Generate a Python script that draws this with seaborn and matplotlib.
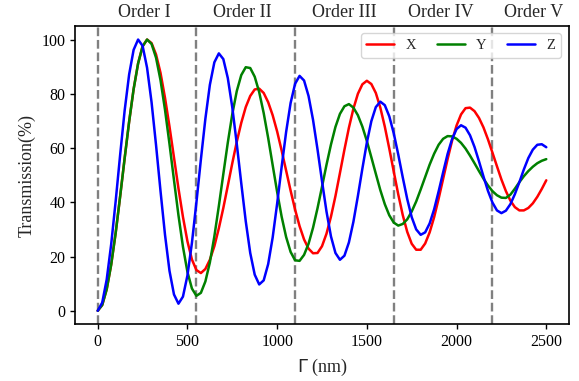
import numpy as np
import pandas as pd
import matplotlib
matplotlib.use("Agg")
import matplotlib.pyplot as plt
import seaborn as sns

# ---- data ----
gamma = np.arange(0, 2501, 25)

x_vals = [0, 2.1, 7.9, 17.0, 28.7, 42.2, 56.2, 69.7, 81.7, 91.2, 97.5, 100.0,
          98.7, 94.5, 87.7, 78.5, 67.9, 56.5, 45.1, 34.6, 25.6, 18.9, 15.0,
          13.9, 15.4, 18.8, 23.8, 30.4, 37.9, 46.1, 54.4, 62.3, 69.3, 75.1, 79.2, 81.6,
          81.9, 80.3, 76.9, 72.1, 66.1, 59.1, 51.7, 44.3, 37.3, 31.2, 26.3, 22.9, 21.2,
          21.3, 23.8, 28.4, 34.7, 42.3, 50.8, 59.4, 67.5, 74.5, 80.0, 83.5, 84.8,
          83.6, 80.3, 74.9, 67.9, 59.8, 51.3, 42.9, 35.3, 29.1, 24.7, 22.5,
          22.5, 24.8, 28.9, 34.5, 41.3, 48.6, 55.9, 62.7, 68.3, 72.4, 74.7,
          74.9, 73.6, 71.1, 67.6, 63.2, 58.3, 53.3, 48.4, 44.1, 40.6, 38.2, 37.0,
          37.0, 37.9, 39.6, 42.0, 44.9, 48.1]

y_vals = [0, 2.1, 7.9, 17.0, 28.7, 42.2, 56.2, 69.7, 81.7, 91.2, 97.5, 100.0,
          98.4, 93.3, 85.0, 74.1, 61.5, 48.2, 35.2, 23.6, 14.3, 8.2, 5.5,
          6.6, 10.8, 17.8, 27.4, 38.6, 50.4, 62.0, 72.5, 81.0, 86.9, 89.8,
          89.5, 86.3, 80.6, 72.9, 63.7, 53.7, 43.8, 34.7, 27.2, 21.7, 18.6,
          18.4, 20.6, 24.7, 30.6, 37.8, 45.7, 53.8, 61.3, 67.8, 72.6, 75.4,
          76.2, 74.9, 72.1, 67.9, 62.6, 56.6, 50.5, 44.5, 39.3, 35.2, 32.5, 31.4,
          32.0, 33.7, 36.6, 40.3, 44.7, 49.3, 53.9, 57.9, 61.2, 63.4, 64.4,
          64.3, 63.4, 61.9, 59.8, 57.2, 54.4, 51.5, 48.7, 46.2, 44.1, 42.6, 41.7,
          41.6, 42.8, 45.0, 47.4, 49.6, 51.5, 53.1, 54.4, 55.3, 55.9]

z_vals = [0, 3.0, 11.5, 24.5, 40.4, 57.5, 73.8, 87.1, 96.2, 100.0,
          97.7, 89.6, 76.9, 61.1, 44.1, 28.0, 14.7, 6.0, 2.6,
          5.2, 13.0, 25.0, 39.9, 55.8, 70.8, 83.3, 91.6, 94.9,
          92.8, 85.8, 75.0, 61.5, 47.0, 33.0, 21.3, 13.3, 9.7,
          11.2, 17.2, 27.0, 39.5, 53.0, 65.9, 76.6, 83.7, 86.6,
          84.9, 79.2, 70.4, 59.5, 47.8, 36.6, 27.4, 21.3, 18.8,
          20.3, 25.2, 32.8, 42.3, 52.4, 62.0, 69.9, 75.1, 77.1,
          75.8, 71.7, 65.4, 57.6, 49.2, 41.2, 34.5, 30.0, 28.0,
          28.9, 32.2, 37.4, 44.0, 51.0, 57.8, 63.3, 67.0, 68.4,
          67.5, 64.7, 60.4, 55.1, 49.5, 44.2, 39.9, 37.0, 36.0,
          36.9, 39.3, 43.0, 47.4, 52.1, 56.3, 59.4, 61.2, 61.4, 60.3]

series_names = ["X", "Y", "Z"]
order_bounds = [0, 550, 1100, 1650, 2200]
order_labels = ["Order I", "Order II", "Order III", "Order IV", "Order V"]
order_label_pos = [259, 806, 1375, 1912, 2429]

df = pd.concat([
    pd.DataFrame({"gamma": gamma, "T": x_vals, "s": "X"}),
    pd.DataFrame({"gamma": gamma, "T": y_vals, "s": "Y"}),
    pd.DataFrame({"gamma": gamma, "T": z_vals, "s": "Z"}),
], ignore_index=True)

# ---- style ----
sns.set_style("ticks")
plt.rcParams["font.family"] = ["Liberation Serif", "DejaVu Sans"]
plt.rcParams["mathtext.fontset"] = "dejavusans"
plt.rcParams["xtick.direction"] = "out"
plt.rcParams["ytick.direction"] = "out"

fig = plt.figure(figsize=(5.79, 3.81), dpi=100)
ax = fig.add_axes([75.3 / 579, 1 - 324.3 / 381, (568.7 - 75.3) / 579, (324.3 - 26) / 381])

sns.lineplot(data=df, x="gamma", y="T", hue="s", hue_order=series_names,
             palette={"X": "red", "Y": "green", "Z": "blue"},
             linewidth=1.8, ax=ax, sort=False, estimator=None)

for b in order_bounds:
    ax.axvline(b, color="gray", linestyle="--", linewidth=1.7, zorder=1)

for lbl, pos in zip(order_labels, order_label_pos):
    ax.text(pos, 108.4, lbl, ha="center", va="baseline", fontsize=13, clip_on=False)

ax.set_xlim(-125, 2625)
ax.set_ylim(-5, 105)
ax.set_xticks([0, 500, 1000, 1500, 2000, 2500])
ax.set_yticks([0, 20, 40, 60, 80, 100])
ax.tick_params(labelsize=11.5, length=3.5, width=1.0, colors="black")
for sp in ax.spines.values():
    sp.set_visible(True)
    sp.set_color("black")
    sp.set_linewidth(1.2)

ax.set_xlabel(r"$\Gamma$ (nm)", fontsize=13, labelpad=5)
ax.set_ylabel("Transmission(%)", fontsize=13)

handles, labels = ax.get_legend_handles_labels()
ax.legend(handles, labels, loc="upper right", ncol=3, fontsize=10.5,
          columnspacing=1.4, handlelength=1.9, frameon=True)

fig.savefig("out.png", dpi=100)
